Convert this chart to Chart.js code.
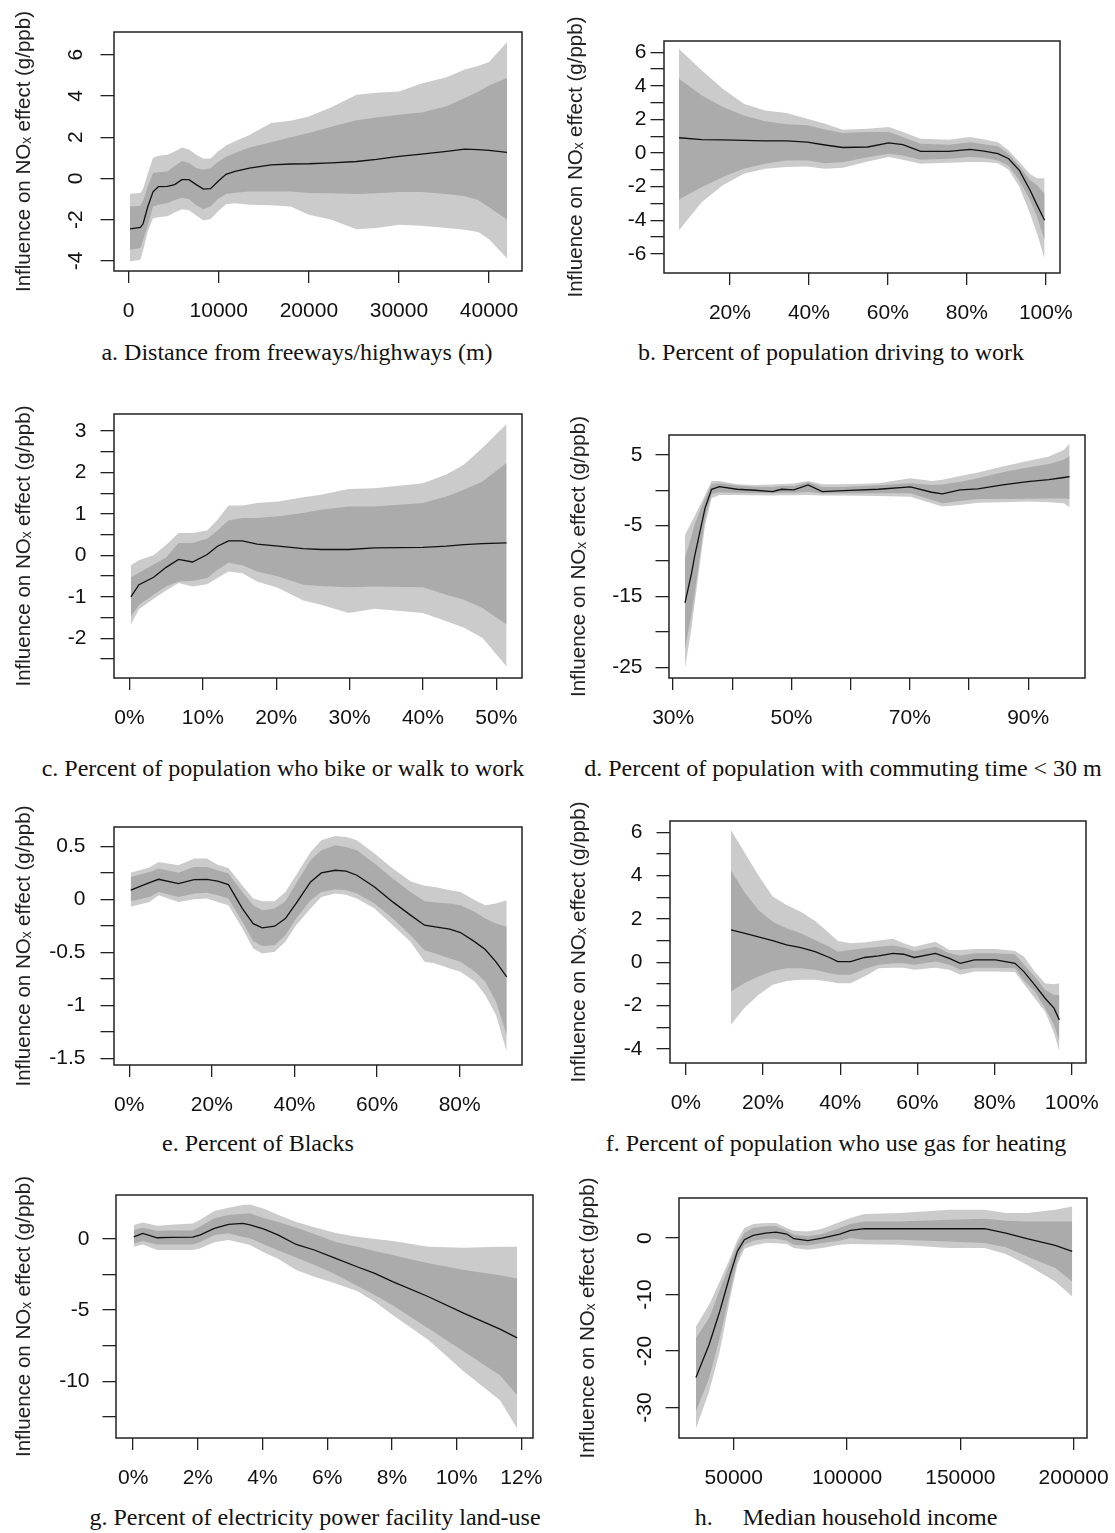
<!DOCTYPE html>
<html>
<head>
<meta charset="utf-8">
<script src="https://cdn.jsdelivr.net/npm/chart.js@4.4.1/dist/chart.umd.min.js"></script>
<style>
  body { margin: 0; background: #fff; }
  #page { position: relative; width: 1115px; height: 1533px; overflow: hidden; background: #fff; }
  #page canvas { position: absolute; }
  .cap { position: absolute; width: 640px; text-align: center; font: 24px 'Liberation Serif', 'Times New Roman', serif; line-height: 28px; color: #111; white-space: pre; }
</style>
</head>
<body>
<div id="page"></div>
<script>
// a. distance from freeways/highways (m)
const aX = [150, 1300, 1600, 2100, 2700, 3300, 4300, 5100, 5900, 6700, 7500, 8300, 9100, 9900, 10800, 11800, 13400, 15800, 18000, 20000, 22500, 25300, 27500, 30000, 32500, 35300, 37300, 38800, 40000, 42000];
const aMean = [-2.45, -2.38, -2.2, -1.4, -0.65, -0.4, -0.39, -0.3, -0.06, -0.06, -0.3, -0.52, -0.5, -0.15, 0.2, 0.34, 0.5, 0.66, 0.7, 0.71, 0.75, 0.82, 0.92, 1.07, 1.18, 1.31, 1.42, 1.4, 1.36, 1.26];
const aLo95 = [-4.03, -3.95, -3.5, -2.6, -1.93, -1.88, -1.84, -1.65, -1.49, -1.55, -1.8, -2.04, -1.97, -1.6, -1.25, -1.2, -1.28, -1.3, -1.36, -1.76, -2.0, -2.46, -2.4, -2.25, -2.3, -2.4, -2.49, -2.6, -2.95, -3.87];
const aLo90 = [-3.46, -3.38, -3.0, -2.3, -1.36, -1.28, -1.2, -1.05, -0.95, -1.0, -1.3, -1.49, -1.35, -1.0, -0.75, -0.7, -0.63, -0.63, -0.63, -0.71, -0.72, -0.76, -0.72, -0.66, -0.66, -0.75, -0.87, -1.05, -1.4, -2.0];
const aHi90 = [-1.36, -1.33, -1.1, -0.4, 0.26, 0.3, 0.34, 0.6, 0.85, 0.75, 0.5, 0.42, 0.5, 0.8, 1.05, 1.23, 1.5, 1.75, 2.0, 2.2, 2.5, 2.82, 2.95, 3.09, 3.2, 3.5, 3.9, 4.2, 4.5, 4.87];
const aHi95 = [-0.74, -0.71, -0.5, 0.2, 1.0, 1.1, 1.15, 1.3, 1.5, 1.4, 1.15, 0.95, 0.97, 1.3, 1.6, 1.8, 2.1, 2.69, 2.8, 3.0, 3.45, 4.06, 4.15, 4.22, 4.6, 4.9, 5.28, 5.45, 5.65, 6.6];
const aXTicks = [0, 10000, 20000, 30000, 40000];
const aXLabels = ['0', '10000', '20000', '30000', '40000'];
const aYTicks = [-4, -2, 0, 2, 4, 6];
const aYLabels = ['-4', '-2', '0', '2', '4', '6'];

// b. percent driving to work
const bX = [7.1, 12.9, 18.2, 23.5, 28.9, 34.3, 39.6, 44.1, 48.6, 54.9, 60.2, 63.8, 68.3, 75.5, 80.8, 84.4, 87.9, 90.6, 93.3, 96, 97.8, 99.7];
const bMean = [0.91, 0.8, 0.78, 0.76, 0.73, 0.72, 0.65, 0.48, 0.33, 0.36, 0.6, 0.5, 0.1, 0.1, 0.22, 0.12, -0.04, -0.34, -1.03, -2.2, -3.1, -4.0];
const bLo95 = [-4.6, -2.92, -1.92, -1.23, -0.93, -0.83, -0.8, -0.93, -0.88, -0.5, -0.24, -0.4, -0.63, -0.58, -0.54, -0.54, -0.6, -1.0, -2.0, -3.6, -4.8, -6.3];
const bLo90 = [-2.76, -2.02, -1.43, -0.93, -0.63, -0.44, -0.44, -0.6, -0.55, -0.25, -0.04, -0.14, -0.4, -0.34, -0.24, -0.28, -0.45, -0.75, -1.63, -2.8, -3.8, -5.2];
const bHi90 = [4.42, 3.43, 2.74, 2.24, 1.9, 1.71, 1.65, 1.4, 1.2, 1.25, 1.25, 0.95, 0.56, 0.5, 0.65, 0.52, 0.4, -0.05, -0.77, -1.6, -1.92, -2.42];
const bHi95 = [6.2, 4.92, 3.83, 2.94, 2.54, 2.38, 2.04, 1.75, 1.39, 1.45, 1.55, 1.25, 0.85, 0.79, 0.95, 0.8, 0.65, 0.15, -0.54, -1.25, -1.5, -1.5];
const bXTicks = [20, 40, 60, 80, 100];
const bXLabels = ['20%', '40%', '60%', '80%', '100%'];
const bYTicks = [-6, -5, -4, -3, -2, -1, 0, 1, 2, 3, 4, 5, 6];
const bYLabels = ['-6', '', '-4', '', '-2', '', '0', '', '2', '', '4', '', '6'];

// c. percent who bike or walk to work
const cX = [0.2, 1.3, 3.3, 5.0, 6.7, 8.6, 10.6, 12.0, 13.5, 15.4, 17.4, 20.3, 23.7, 26.1, 29.9, 33.4, 40.0, 43.2, 45.6, 48.1, 51.4];
const cMean = [-1.0, -0.71, -0.53, -0.29, -0.1, -0.16, 0.02, 0.22, 0.35, 0.35, 0.27, 0.22, 0.16, 0.14, 0.14, 0.18, 0.19, 0.22, 0.26, 0.28, 0.3];
const cLo95 = [-1.67, -1.3, -1.05, -0.85, -0.67, -0.75, -0.7, -0.55, -0.39, -0.43, -0.63, -0.79, -1.09, -1.19, -1.39, -1.29, -1.39, -1.59, -1.75, -1.99, -2.68];
const cLo90 = [-1.47, -1.2, -0.95, -0.75, -0.63, -0.62, -0.55, -0.35, -0.18, -0.24, -0.39, -0.51, -0.71, -0.74, -0.77, -0.75, -0.77, -0.95, -1.07, -1.27, -1.67];
const cHi90 = [-0.53, -0.42, -0.22, -0.05, 0.3, 0.3, 0.4, 0.6, 0.84, 0.9, 0.9, 0.94, 1.02, 1.1, 1.18, 1.18, 1.26, 1.42, 1.58, 1.78, 2.23];
const cHi95 = [-0.24, -0.12, 0.0, 0.25, 0.54, 0.54, 0.6, 0.86, 1.2, 1.2, 1.26, 1.3, 1.4, 1.46, 1.6, 1.62, 1.74, 1.95, 2.19, 2.59, 3.17];
const cXTicks = [0, 10, 20, 30, 40, 50];
const cXLabels = ['0%', '10%', '20%', '30%', '40%', '50%'];
const cYTicks = [-2.5, -2, -1.5, -1, -0.5, 0, 0.5, 1, 1.5, 2, 2.5, 3];
const cYLabels = ['', '-2', '', '-1', '', '0', '', '1', '', '2', '', '3'];

// d. percent with commuting time < 30 m
const dX = [32.0, 33.1, 33.6, 35.4, 36.5, 37.8, 40.8, 43.8, 46.8, 48.3, 50.4, 52.8, 55.2, 58.8, 64.7, 70.1, 73.7, 75.5, 78.5, 81.5, 85.7, 89.9, 93.5, 96.0, 97.0];
const dMean = [-15.9, -11.75, -9.45, -2.5, 0.14, 0.52, 0.14, 0, -0.19, 0.14, 0.05, 0.75, -0.19, -0.05, 0.14, 0.47, -0.28, -0.52, 0.05, 0.19, 0.75, 1.22, 1.5, 1.8, 1.93];
const dLo95 = [-25.1, -19.5, -16.2, -4.9, -1.13, -0.66, -0.66, -0.7, -0.75, -0.7, -0.7, -0.66, -0.75, -0.75, -0.8, -0.9, -1.83, -2.3, -2.07, -1.75, -1.7, -1.6, -1.7, -1.83, -2.4];
const dLo90 = [-22.3, -17.5, -14.8, -3.95, -0.52, -0.28, -0.35, -0.4, -0.42, -0.35, -0.35, -0.2, -0.45, -0.42, -0.42, -0.42, -1.36, -1.83, -1.5, -1.25, -1.22, -1.2, -1.15, -1.15, -1.22];
const dHi90 = [-9.6, -6.5, -4.9, -1.13, 0.85, 1.0, 0.66, 0.5, 0.47, 0.6, 0.6, 1.13, 0.45, 0.47, 0.7, 1.0, 0.75, 0.8, 1.2, 1.7, 2.54, 3.2, 3.7, 4.3, 4.84];
const dHi95 = [-6.3, -4.5, -3.7, -0.66, 1.3, 1.3, 0.85, 0.75, 0.8, 0.9, 0.95, 1.3, 0.85, 0.85, 1.0, 1.7, 1.3, 1.5, 2.0, 2.5, 3.34, 4.14, 4.75, 5.7, 6.6];
const dXTicks = [30, 40, 50, 60, 70, 80, 90];
const dXLabels = ['30%', '', '50%', '', '70%', '', '90%'];
const dYTicks = [-25, -20, -15, -10, -5, 0, 5];
const dYLabels = ['-25', '', '-15', '', '-5', '', '5'];

// e. percent of Blacks
const eX = [0.35, 4.9, 7.1, 11.9, 15.7, 18.8, 21.4, 24.0, 27.4, 30.0, 32.2, 35.2, 37.8, 40.4, 43.9, 46.5, 49.9, 52.5, 55.1, 59.4, 63.8, 68.1, 71.5, 74.1, 77.6, 80.2, 83.7, 86.2, 88.8, 91.4];
const eMean = [0.085, 0.157, 0.188, 0.148, 0.185, 0.188, 0.17, 0.138, -0.088, -0.23, -0.27, -0.254, -0.182, -0.04, 0.163, 0.248, 0.273, 0.264, 0.226, 0.116, -0.025, -0.15, -0.245, -0.26, -0.282, -0.314, -0.402, -0.474, -0.59, -0.731];
const eLo95 = [-0.072, -0.025, 0.038, -0.025, 0, 0.006, -0.025, -0.056, -0.276, -0.465, -0.512, -0.496, -0.4, -0.245, -0.088, 0.022, 0.053, 0.043, 0.006, -0.088, -0.245, -0.4, -0.59, -0.606, -0.653, -0.684, -0.778, -0.904, -1.092, -1.438];
const eLo90 = [-0.019, 0.022, 0.069, 0.022, 0.053, 0.06, 0.038, 0.006, -0.213, -0.395, -0.44, -0.433, -0.339, -0.182, -0.01, 0.069, 0.094, 0.085, 0.053, -0.04, -0.182, -0.339, -0.48, -0.512, -0.56, -0.59, -0.684, -0.778, -0.967, -1.28];
const eHi90 = [0.21, 0.257, 0.289, 0.25, 0.304, 0.304, 0.273, 0.242, 0.069, -0.056, -0.104, -0.088, -0.019, 0.148, 0.367, 0.461, 0.508, 0.493, 0.461, 0.336, 0.195, 0.069, -0.019, -0.031, -0.04, -0.056, -0.12, -0.182, -0.23, -0.26];
const eHi95 = [0.25, 0.30, 0.35, 0.32, 0.383, 0.383, 0.326, 0.295, 0.13, 0.006, -0.019, -0.019, 0.069, 0.226, 0.446, 0.556, 0.596, 0.587, 0.556, 0.43, 0.289, 0.17, 0.126, 0.116, 0.085, 0.069, -0.01, -0.056, -0.04, -0.01];
const eXTicks = [0, 20, 40, 60, 80];
const eXLabels = ['0%', '20%', '40%', '60%', '80%'];
const eYTicks = [-1.5, -1.25, -1, -0.75, -0.5, -0.25, 0, 0.25, 0.5];
const eYLabels = ['-1.5', '', '-1', '', '-0.5', '', '0', '', '0.5'];

// f. percent who use gas for heating
const fX = [11.7, 15.1, 18.8, 22.5, 26.1, 29.8, 33.5, 37.2, 39.4, 42.7, 46.3, 50.0, 53.7, 56.4, 59.2, 64.7, 68.3, 71.1, 74.8, 80.3, 85.3, 87.6, 90.4, 93.1, 95.4, 96.8];
const fMean = [1.49, 1.34, 1.17, 1.0, 0.8, 0.68, 0.49, 0.22, 0.03, 0.03, 0.22, 0.29, 0.41, 0.37, 0.22, 0.41, 0.18, -0.05, 0.11, 0.11, -0.05, -0.43, -1.04, -1.66, -2.12, -2.66];
const fLo95 = [-2.89, -2.12, -1.51, -1.04, -0.86, -0.81, -0.81, -0.89, -0.97, -0.97, -0.66, -0.28, -0.25, -0.25, -0.35, -0.25, -0.35, -0.58, -0.43, -0.43, -0.45, -1.0, -1.66, -2.27, -3.27, -4.12];
const fLo90 = [-1.35, -0.97, -0.66, -0.4, -0.28, -0.28, -0.35, -0.51, -0.58, -0.58, -0.31, -0.12, -0.05, -0.05, -0.12, 0.03, -0.12, -0.35, -0.25, -0.25, -0.28, -0.83, -1.35, -2.12, -2.89, -3.66];
const fHi90 = [4.25, 3.26, 2.41, 1.87, 1.57, 1.34, 1.03, 0.72, 0.49, 0.57, 0.65, 0.72, 0.77, 0.68, 0.52, 0.72, 0.41, 0.31, 0.41, 0.41, 0.37, -0.1, -0.66, -1.27, -1.51, -1.51];
const fHi95 = [6.1, 5.1, 4.02, 3.03, 2.64, 2.33, 1.9, 1.34, 0.98, 0.88, 0.91, 1.0, 1.08, 0.88, 0.72, 0.95, 0.57, 0.57, 0.61, 0.61, 0.52, 0.26, -0.43, -0.97, -1.01, -0.97];
const fXTicks = [0, 20, 40, 60, 80, 100];
const fXLabels = ['0%', '20%', '40%', '60%', '80%', '100%'];
const fYTicks = [-4, -3, -2, -1, 0, 1, 2, 3, 4, 5, 6];
const fYLabels = ['-4', '', '-2', '', '0', '', '2', '', '4', '', '6'];

// g. percent of electricity power facility land-use
const gX = [0.02, 0.30, 0.74, 1.18, 1.84, 2.06, 2.51, 2.95, 3.39, 3.61, 4.05, 4.49, 5.04, 5.60, 6.26, 6.92, 7.47, 8.02, 9.13, 10.23, 11.34, 11.87];
const gMean = [0.16, 0.4, 0.09, 0.12, 0.14, 0.28, 0.75, 1.03, 1.1, 0.99, 0.7, 0.28, -0.38, -0.77, -1.36, -1.95, -2.42, -3.0, -4.06, -5.23, -6.34, -6.95];
const gLo95 = [-0.54, -0.38, -0.77, -0.77, -0.77, -0.66, -0.23, -0.07, -0.3, -0.42, -0.94, -1.4, -2.18, -2.65, -3.12, -3.66, -4.41, -5.35, -7.11, -9.34, -11.34, -13.33];
const gLo90 = [-0.31, -0.14, -0.38, -0.38, -0.38, -0.23, 0.28, 0.4, 0.15, 0.05, -0.38, -0.8, -1.3, -1.8, -2.5, -3.29, -3.94, -4.65, -6.29, -7.93, -9.58, -10.99];
const gHi90 = [0.63, 0.8, 0.56, 0.6, 0.6, 0.87, 1.46, 1.69, 1.78, 1.81, 1.46, 1.2, 0.8, 0.35, -0.2, -0.54, -0.84, -1.13, -1.71, -2.18, -2.54, -2.77];
const gHi95 = [0.99, 1.17, 0.94, 1.0, 1.1, 1.34, 1.97, 2.21, 2.4, 2.44, 2.13, 1.69, 1.2, 0.83, 0.42, 0.16, 0.01, -0.14, -0.54, -0.61, -0.54, -0.54];
const gXTicks = [0, 2, 4, 6, 8, 10, 12];
const gXLabels = ['0%', '2%', '4%', '6%', '8%', '10%', '12%'];
const gYTicks = [-12.5, -10, -7.5, -5, -2.5, 0];
const gYLabels = ['', '-10', '', '-5', '', '0'];

// h. median household income
const hX = [33300, 39100, 43800, 48400, 51600, 54700, 58600, 64000, 68700, 73400, 76500, 82700, 89000, 96800, 101500, 107700, 123300, 145100, 160700, 170100, 179400, 191900, 199400];
const hMean = [-24.7, -18.9, -13.0, -6.5, -2.36, -0.3, 0.47, 0.89, 1.06, 0.71, -0.12, -0.47, 0, 0.71, 1.36, 1.65, 1.65, 1.65, 1.65, 0.89, -0.12, -1.3, -2.36];
const hLo95 = [-33.7, -27.2, -20.1, -10.6, -4.7, -1.89, -1.3, -0.89, -0.9, -1.06, -1.77, -2.07, -1.77, -1.18, -1.06, -1.1, -1.18, -1.77, -1.77, -2.84, -4.73, -7.68, -10.34];
const hLo90 = [-30.7, -24.8, -17.7, -9.45, -3.84, -1.18, -0.47, -0.12, -0.12, -0.47, -1.18, -1.3, -0.89, -0.47, 0, -0.3, -0.3, -0.59, -0.89, -1.65, -3.25, -5.32, -7.68];
const hHi90 = [-17.7, -14.2, -9.2, -4.43, -1.18, 0.89, 1.77, 2.07, 2.07, 1.3, 0.59, 0.3, 0.71, 1.77, 2.48, 2.95, 2.95, 3.25, 3.43, 3.07, 2.95, 2.95, 2.95];
const hHi95 = [-15.65, -11.8, -7.7, -3.54, -0.3, 1.77, 2.48, 2.66, 2.66, 1.77, 1.3, 1.18, 1.65, 2.84, 3.54, 4.25, 4.43, 5.02, 5.02, 4.43, 4.43, 5.02, 5.6];
const hXTicks = [50000, 100000, 150000, 200000];
const hXLabels = ['50000', '100000', '150000', '200000'];
const hYTicks = [-30, -20, -10, 0];
const hYLabels = ['-30', '-20', '-10', '0'];

const captionText = {
    a: 'a. Distance from freeways/highways (m)',
    b: 'b. Percent of population driving to work',
    c: 'c. Percent of population who bike or walk to work',
    d: 'd. Percent of population with commuting time < 30 m',
    e: 'e. Percent of Blacks',
    f: 'f. Percent of population who use gas for heating',
    g: 'g. Percent of electricity power facility land-use',
    h: 'h.     Median household income'
};
const yTitle = 'Influence on NO\u2093 effect (g/ppb)';

const series = {
    a: { x: aX, mean: aMean, lo95: aLo95, lo90: aLo90, hi90: aHi90, hi95: aHi95, xt: aXTicks, xl: aXLabels, yt: aYTicks, yl: aYLabels },
    b: { x: bX, mean: bMean, lo95: bLo95, lo90: bLo90, hi90: bHi90, hi95: bHi95, xt: bXTicks, xl: bXLabels, yt: bYTicks, yl: bYLabels },
    c: { x: cX, mean: cMean, lo95: cLo95, lo90: cLo90, hi90: cHi90, hi95: cHi95, xt: cXTicks, xl: cXLabels, yt: cYTicks, yl: cYLabels },
    d: { x: dX, mean: dMean, lo95: dLo95, lo90: dLo90, hi90: dHi90, hi95: dHi95, xt: dXTicks, xl: dXLabels, yt: dYTicks, yl: dYLabels },
    e: { x: eX, mean: eMean, lo95: eLo95, lo90: eLo90, hi90: eHi90, hi95: eHi95, xt: eXTicks, xl: eXLabels, yt: eYTicks, yl: eYLabels },
    f: { x: fX, mean: fMean, lo95: fLo95, lo90: fLo90, hi90: fHi90, hi95: fHi95, xt: fXTicks, xl: fXLabels, yt: fYTicks, yl: fYLabels },
    g: { x: gX, mean: gMean, lo95: gLo95, lo90: gLo90, hi90: gHi90, hi95: gHi95, xt: gXTicks, xl: gXLabels, yt: gYTicks, yl: gYLabels },
    h: { x: hX, mean: hMean, lo95: hLo95, lo90: hLo90, hi90: hHi90, hi95: hHi95, xt: hXTicks, xl: hXLabels, yt: hYTicks, yl: hYLabels }
};

// canvas placement, plot box (page px) and axis ranges
const layout = [
    { key: 'a', left: 0, top: 0, w: 560, h: 332, box: [114, 32, 522, 271], x: [-1630, 43660], y: [-4.49, 7.1], rotate: true, labelPad: 14.7, titlePad: 11.7, cap: [297, 352] },
    { key: 'b', left: 560, top: 0, w: 600, h: 332, box: [664, 41, 1060, 273], x: [3.3, 103.6], y: [-7.14, 6.67], rotate: false, labelPad: 4, titlePad: 3.7, cap: [831, 352] },
    { key: 'c', left: 0, top: 385, w: 560, h: 353, box: [114, 414, 522, 678], x: [-2.1, 53.5], y: [-2.96, 3.41], rotate: false, labelPad: 14, titlePad: 11.7, cap: [283, 768] },
    { key: 'd', left: 560, top: 385, w: 600, h: 353, box: [669, 435, 1085, 678], x: [29.3, 99.6], y: [-26.5, 7.8], rotate: false, labelPad: 13, titlePad: 7.2, cap: [843, 768] },
    { key: 'e', left: 0, top: 785, w: 560, h: 340, box: [114, 827, 522, 1065], x: [-3.7, 95.1], y: [-1.563, 0.681], rotate: false, labelPad: 15, titlePad: 11.7, cap: [258, 1143] },
    { key: 'f', left: 560, top: 785, w: 600, h: 340, box: [670, 821, 1086, 1063], x: [-4.1, 103.7], y: [-4.65, 6.52], rotate: false, labelPad: 14, titlePad: 7.2, cap: [836, 1143] },
    { key: 'g', left: 0, top: 1165, w: 560, h: 333, box: [116, 1195, 533, 1438], x: [-0.53, 12.36], y: [-14.0, 3.1], rotate: false, labelPad: 13, titlePad: 11.7, cap: [315, 1517] },
    { key: 'h', left: 560, top: 1165, w: 600, h: 333, box: [679, 1198, 1087, 1438], x: [25830, 205930], y: [-35.4, 7.09], rotate: true, labelPad: 4.9, titlePad: 16, cap: [846, 1517] }
];

const SANS = "'Liberation Sans', Arial, 'DejaVu Sans', sans-serif";
const LIGHT = '#cbcbcb';
const DARK = '#ababab';
const INK = '#222';

const boxPlugin = {
    id: 'plotBox',
    afterDraw(chart) {
        const { ctx, chartArea } = chart;
        ctx.save();
        ctx.strokeStyle = INK;
        ctx.lineWidth = 1.5;
        ctx.strokeRect(chartArea.left, chartArea.top, chartArea.right - chartArea.left, chartArea.bottom - chartArea.top);
        ctx.restore();
    }
};

const page = document.getElementById('page');

function drawPanel(p) {
    const s = series[p.key];
    const canvas = document.createElement('canvas');
    canvas.width = p.w;
    canvas.height = p.h;
    canvas.style.left = p.left + 'px';
    canvas.style.top = p.top + 'px';
    page.appendChild(canvas);

    const [bl, bt, br, bb] = p.box;
    const pts = (ys) => s.x.map((x, i) => ({ x: x, y: ys[i] }));
    const band = (ys, color, fill) => ({
        data: pts(ys), borderWidth: 0, pointRadius: 0, backgroundColor: color, fill: fill, tension: 0
    });

    new Chart(canvas, {
        type: 'line',
        data: {
            datasets: [
                { data: pts(s.mean), borderColor: '#111', borderWidth: 1.3, pointRadius: 0, fill: false, tension: 0 },
                band(s.hi90, DARK, '+1'),
                band(s.lo90, DARK, false),
                band(s.hi95, LIGHT, '+1'),
                band(s.lo95, LIGHT, false)
            ]
        },
        options: {
            responsive: false,
            animation: false,
            devicePixelRatio: 1,
            events: [],
            layout: { padding: { top: bt - p.top, right: p.left + p.w - br, left: 0, bottom: 0 } },
            plugins: { legend: { display: false }, tooltip: { enabled: false } },
            scales: {
                x: {
                    type: 'linear',
                    min: p.x[0],
                    max: p.x[1],
                    afterBuildTicks: (scale) => { scale.ticks = s.xt.map((v) => ({ value: v })); },
                    afterFit: (scale) => { scale.height = p.top + p.h - bb; },
                    border: { display: false },
                    grid: { drawOnChartArea: false, drawTicks: true, tickLength: 12, color: INK, lineWidth: 1.3 },
                    ticks: {
                        autoSkip: false, minRotation: 0, maxRotation: 0, padding: 15.4,
                        color: '#111', font: { family: SANS, size: 21 },
                        callback: (v, i) => s.xl[i]
                    }
                },
                y: {
                    type: 'linear',
                    min: p.y[0],
                    max: p.y[1],
                    afterBuildTicks: (scale) => { scale.ticks = s.yt.map((v) => ({ value: v })); },
                    afterFit: (scale) => { scale.width = bl - p.left; },
                    border: { display: false },
                    grid: { drawOnChartArea: false, drawTicks: true, tickLength: 13.5, color: INK, lineWidth: 1.3 },
                    ticks: {
                        autoSkip: false,
                        minRotation: p.rotate ? 90 : 0,
                        maxRotation: p.rotate ? 90 : 0,
                        crossAlign: p.rotate ? 'center' : 'near',
                        padding: p.labelPad,
                        color: '#111', font: { family: SANS, size: 21 },
                        callback: (v, i) => s.yl[i]
                    },
                    title: {
                        display: true, text: yTitle, color: INK,
                        font: { family: SANS, size: 20.5 },
                        padding: { top: p.titlePad, bottom: 0 }
                    }
                }
            }
        },
        plugins: [boxPlugin]
    });

    const cap = document.createElement('div');
    cap.className = 'cap';
    cap.textContent = captionText[p.key];
    cap.style.left = (p.cap[0] - 320) + 'px';
    cap.style.top = (p.cap[1] - 14) + 'px';
    page.appendChild(cap);
}

layout.forEach(drawPanel);
</script>
</body>
</html>
